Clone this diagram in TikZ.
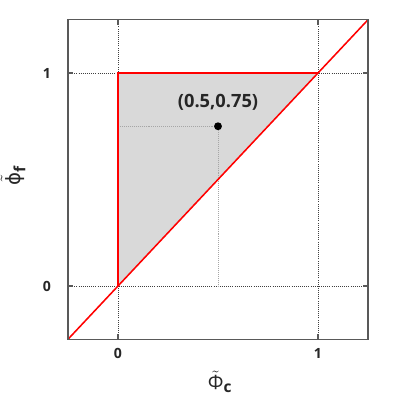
\documentclass[tikz,border=0pt]{standalone}
\usepackage{fontspec}
\setmainfont{Open Sans}
\newfontfamily\dvs{DejaVu Sans}
\begin{document}
\begin{tikzpicture}[x=5cm,y=5.325cm,
  grid/.style={black!75,densely dotted,line width=0.5pt},
  frame/.style={black!65,line width=0.8pt},
  guide/.style={black!35,densely dotted,line width=0.4pt},
  redline/.style={red,line width=1.1pt},
  ticklab/.style={font=\fontsize{10}{12}\selectfont\bfseries,text=black!85},
  axlab/.style={font=\fontsize{14}{16}\selectfont,text=black!85}]
\useasboundingbox (-0.59,-0.5352) rectangle (1.41,1.3427);
% grid
\draw[grid] (0,-0.25) -- (0,1.25);
\draw[grid] (1,-0.25) -- (1,1.25);
\draw[grid] (-0.25,0) -- (1.25,0);
\draw[grid] (-0.25,1) -- (1.25,1);
% triangle
\fill[black!15] (0,0) -- (0,1) -- (1,1) -- cycle;
% guides
\coordinate (p) at (0.5,0.75);
\coordinate (pl) at (0,0.75);
\coordinate (pb) at (0.5,0);
\draw[guide] (pl) -- (p);
\draw[guide] (p) -- (pb);
\draw[redline] (0,0) -- (0,1) -- (1,1);
\draw[redline] (-0.25,-0.25) -- (1.25,1.25);
\fill[black] (p) circle (2.8pt);
\node[font=\fontsize{13}{15}\selectfont\bfseries,text=black!85] (plab) at (0.5,0.86) {(0.5,0.75)};
% frame
\draw[frame] (-0.25,-0.25) rectangle (1.25,1.25);
\foreach \t in {0,1}{
  \draw[frame] (\t,-0.25) -- (\t,-0.225);
  \draw[frame] (\t,1.25) -- (\t,1.225);
  \draw[frame] (-0.25,\t) -- (-0.225,\t);
  \draw[frame] (1.25,\t) -- (1.225,\t);
}
\node[ticklab] (x0) at (0,-0.315) {0};
\node[ticklab] (x1) at (1,-0.315) {1};
\node[ticklab] (y0) at (-0.355,0) {0};
\node[ticklab] (y1) at (-0.355,1) {1};
\node[axlab] (xl) at (0.51,-0.45) {$\tilde{\hbox{Φ}}_{\hbox{\fontsize{11}{12}\selectfont\bfseries c}}$};
\node[axlab,rotate=90] (yl) at (-0.525,0.52) {$\tilde{\hbox{\dvs ϕ}}_{\hbox{\fontsize{11}{12}\selectfont\bfseries f}}$};
\end{tikzpicture}
\end{document}
